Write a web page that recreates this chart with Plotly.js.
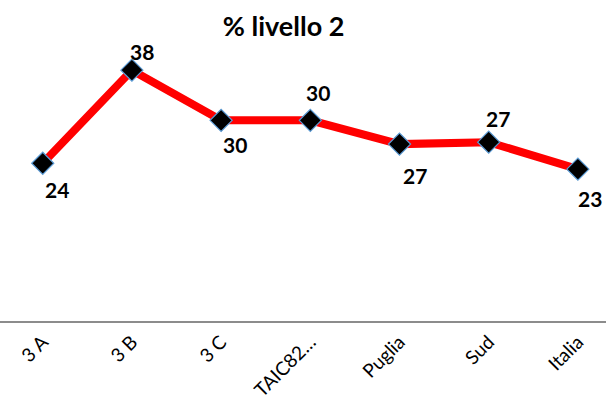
<!DOCTYPE html>
<html>
<head>
<meta charset="utf-8">
<script src="https://cdn.plot.ly/plotly-3.0.1.min.js"></script>
<style>html,body{margin:0;padding:0;background:#fff}#chart{width:606px;height:404px}</style>
</head>
<body>
<div id="chart"></div>
<script>
const categories = ["3 A", "3 B", "3 C", "TAIC82…", "Puglia", "Sud", "Italia"];
const values = [23.9, 38.0, 30.4, 30.4, 26.8, 27.1, 23.0];
const chartTitle = "% livello 2";

// label offsets (px) relative to each marker, as placed in the reference
const labelDx = [14, 10, 14, 8, 15, 9, 12];
const labelDy = [-26, 19, -24, 28, -31, 24, -29];

const trace = {
  x: categories,
  y: values,
  type: "scatter",
  mode: "lines+markers",
  line: {color: "#FF0000", width: 8},
  marker: {symbol: "diamond", size: 17, color: "#000000", line: {color: "#5B9BD5", width: 1.2}},
  hoverinfo: "skip",
  cliponaxis: false
};

const annotations = categories.map((c, i) => ({
  x: i, y: values[i], xref: "x", yref: "y",
  text: Math.round(values[i]).toString(),
  showarrow: false,
  xshift: labelDx[i], yshift: labelDy[i],
  font: {family: "Lato, 'Open Sans', sans-serif", size: 21, color: "#000", weight: "bold"}
}));

const layout = {
  width: 606, height: 404,
  margin: {l: 0, r: 0, t: 24, b: 83, pad: 0},
  paper_bgcolor: "#fff", plot_bgcolor: "#fff",
  showlegend: false,
  title: {text: "<b>" + chartTitle + "</b>", x: 0.468, xanchor: "center", y: 0.935, yanchor: "middle",
          font: {family: "Lato, 'Open Sans', sans-serif", size: 27, color: "#000"}},
  xaxis: {
    type: "category",
    range: [-0.479, 6.315],
    showline: true, linecolor: "#8C8C8C", linewidth: 1.5,
    showgrid: false, zeroline: false, ticks: "",
    tickangle: -45,
    ticklabelstandoff: 1,
    tickfont: {family: "Lato, 'Open Sans', sans-serif", size: 19, color: "#000"}
  },
  yaxis: {range: [0, 45], visible: false, showgrid: false, zeroline: false},
  annotations: annotations
};

Plotly.newPlot("chart", [trace], layout, {staticPlot: true, displayModeBar: false});
</script>
</body>
</html>
